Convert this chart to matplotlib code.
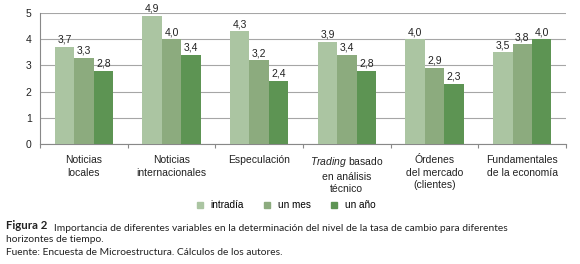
import matplotlib.pyplot as plt
import numpy as np
from matplotlib.patches import Patch

categories = ['Noticias\nlocales', 'Noticias\ninternacionales', 'Especulación',
              '$\\mathit{Trading}$ basado\nen análisis\ntécnico', 'Órdenes\ndel mercado\n(clientes)',
              'Fundamentales\nde la economía']
series_names = ['intradía', 'un mes', 'un año']
intradia = [3.7, 4.9, 4.3, 3.9, 4.0, 3.5]
un_mes = [3.3, 4.0, 3.2, 3.4, 2.9, 3.8]
un_anio = [2.8, 3.4, 2.4, 2.8, 2.3, 4.0]
colors = ['#abc5a2', '#8cab7e', '#5d9453']

plt.rcParams['font.family'] = ['Liberation Sans', 'DejaVu Sans']
plt.rcParams['mathtext.fontset'] = 'custom'
plt.rcParams['mathtext.it'] = 'Liberation Sans:italic'
plt.rcParams['mathtext.rm'] = 'Liberation Sans'

fig = plt.figure(figsize=(5.8, 2.64), dpi=100)
ax = fig.add_axes([0.069, 0.4545, 0.907, 0.4965])

x = np.arange(len(categories))
w = 0.222
for i, (vals, c) in enumerate(zip([intradia, un_mes, un_anio], colors)):
    pos = x + (i - 1) * w
    ax.bar(pos, vals, width=w, color=c, edgecolor='none', zorder=3)
    for p, v in zip(pos, vals):
        ax.text(p, v + 0.08, f'{v:.1f}'.replace('.', ','), ha='center', va='bottom',
                fontsize=7.5, color='#222222')

ax.set_xlim(-0.5, len(categories) - 0.5)
ax.set_ylim(0, 5)
ax.set_yticks(range(6))
ax.yaxis.grid(True, color='#a6a6a6', linewidth=0.8, zorder=0)
ax.tick_params(axis='y', length=0, labelsize=7.5, pad=6, colors='#222222')
ax.set_xticks(np.arange(-0.5, len(categories), 1.0))
ax.set_xticklabels([])
ax.set_xticks(x, minor=True)
ax.set_xticklabels(categories, minor=True, fontsize=7.5, color='#222222', linespacing=1.3)
ax.tick_params(axis='x', which='major', length=3, color='#888888')
ax.tick_params(axis='x', which='minor', length=0, pad=8)
for s in ['top', 'right']:
    ax.spines[s].set_visible(False)
ax.spines['left'].set_color('#888888')
ax.spines['bottom'].set_color('#888888')

handles = [Patch(color=c, label=n) for c, n in zip(colors, series_names)]
fig.legend(handles=handles, loc='center', bbox_to_anchor=(0.493, 0.222), ncol=3, frameon=False,
           fontsize=7.2, handlelength=0.6, handleheight=0.6, handletextpad=0.8, columnspacing=2.0)

cap = dict(fontsize=7.4, color='#222222', family=['Lato', 'DejaVu Sans'])
t1 = fig.text(0.010, 0.133, 'Figura 2', fontweight='bold', fontsize=8.2, color='#222222',
              family=['Lato', 'DejaVu Sans'])
ax.annotate('Importancia de diferentes variables en la determinación del nivel de la tasa de cambio para diferentes',
            xy=(1, 0), xycoords=t1, xytext=(5, 0), textcoords='offset points', **cap)
fig.text(0.010, 0.084, 'horizontes de tiempo.', **cap)
fig.text(0.010, 0.035, 'Fuente: Encuesta de Microestructura. Cálculos de los autores.', **cap)

fig.savefig('out.png', dpi=100)
